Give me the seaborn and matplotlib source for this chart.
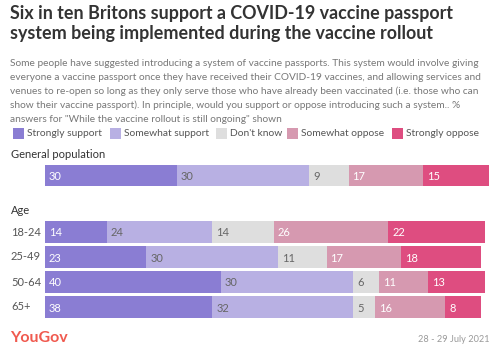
import matplotlib
matplotlib.use("Agg")
import matplotlib.pyplot as plt
import seaborn as sns
import pandas as pd
import numpy as np
from matplotlib.patches import Rectangle

# ---- data ----
series = ["Strongly support", "Somewhat support", "Don't know", "Somewhat oppose", "Strongly oppose"]
colors = ["#8a7dd3", "#b8b0e3", "#dedede", "#d699b0", "#de4d80"]
label_colors = ["white", "#666666", "#666666", "white", "white"]

gen_groups = ["General population"]
gen_strongly_support = [30]
gen_somewhat_support = [30]
gen_dont_know = [9]
gen_somewhat_oppose = [17]
gen_strongly_oppose = [15]

age_groups = ["18-24", "25-49", "50-64", "65+"]
age_strongly_support = [14, 23, 40, 38]
age_somewhat_support = [24, 30, 30, 32]
age_dont_know = [14, 11, 6, 5]
age_somewhat_oppose = [26, 17, 11, 16]
age_strongly_oppose = [22, 18, 13, 8]

title = "Six in ten Britons support a COVID-19 vaccine passport\nsystem being implemented during the vaccine rollout"
subtitle_lines = [
    "Some people have suggested introducing a system of vaccine passports. This system would involve giving",
    "everyone a vaccine passport once they have received their COVID-19 vaccines, and allowing services and",
    "venues to re-open so long as they only serve those who have already been vaccinated (i.e. those who can",
    "show their vaccine passport). In principle, would you support or oppose introducing such a system.. %",
    "answers for \"While the vaccine rollout is still ongoing\" shown",
]
date_text = "28 - 29 July 2021"

W, H = 503, 361
FONT = "Lato"
plt.rcParams["font.family"] = [FONT, "DejaVu Sans"]

fig = plt.figure(figsize=(W / 100, H / 100), dpi=100)
fig.patch.set_facecolor("white")


def px_axes(left, top, width, height):
    return fig.add_axes([left / W, 1 - (top + height) / H, width / W, height / H])


def stacked(ax, groups, values):
    df = pd.DataFrame({"group": groups})
    vals = np.array(values, dtype=float)  # shape (5, n)
    cum = np.cumsum(vals, axis=0)
    for i in range(len(series) - 1, -1, -1):
        df["v"] = cum[i]
        sns.barplot(data=df, x="v", y="group", color=colors[i], width=0.86,
                    orient="h", ax=ax, saturation=1, linewidth=0)
    for i in range(len(series)):
        starts = cum[i] - vals[i]
        for j, g in enumerate(groups):
            ax.text(starts[j] + 0.9, j + 0.04, f"{int(vals[i][j])}", ha="left", va="center",
                    fontsize=8, color=label_colors[i])
    ax.set_xlim(0, 100)
    ax.set_ylim(len(groups) - 0.5, -0.5)
    ax.axis("off")
    for p in ax.patches:
        p.set_clip_on(False)


ax1 = px_axes(45, 163, 440, 25)
stacked(ax1, gen_groups, [gen_strongly_support, gen_somewhat_support, gen_dont_know,
                          gen_somewhat_oppose, gen_strongly_oppose])

ax2 = px_axes(45, 219.5, 440, 100)
stacked(ax2, age_groups, [age_strongly_support, age_somewhat_support, age_dont_know,
                          age_somewhat_oppose, age_strongly_oppose])

# row labels
for j, g in enumerate(age_groups):
    ax2.text(-34 / 4.4, j, g, ha="left", va="center", fontsize=8, color="#555555")


def ftext(x, y, s, **kw):
    fig.text(x / W, 1 - y / H, s, **kw)


ftext(10, 5, title, ha="left", va="top", fontsize=12.9, fontweight="bold",
      color="#333333", linespacing=1.18)
for k, line in enumerate(subtitle_lines):
    ftext(10, 63 + 14 * k, line, ha="left", va="center", fontsize=7.3, color="#777777")

# legend
leg_x = [13, 110, 216, 287, 392]
for i, s in enumerate(series):
    fig.patches.append(Rectangle((leg_x[i] / W, 1 - 139 / H), 11 / W, 11 / H,
                                 transform=fig.transFigure, facecolor=colors[i],
                                 edgecolor="none", figure=fig))
    ftext(leg_x[i] + 14, 134, s, ha="left", va="center", fontsize=7.4, color="#555555")

ftext(11, 155, "General population", ha="left", va="center", fontsize=8, color="#333333")
ftext(11, 211, "Age", ha="left", va="center", fontsize=8, color="#333333")

ftext(10, 338, "YouGov", ha="left", va="center", fontsize=11.5, fontweight="bold", color="#f05a4f")
ftext(490, 339, date_text, ha="right", va="center", fontsize=6.6, color="#999999")

fig.savefig("out.png", dpi=100)
